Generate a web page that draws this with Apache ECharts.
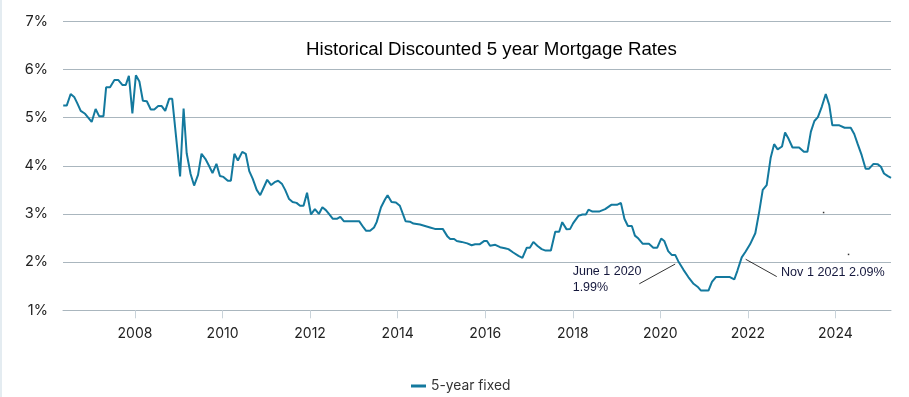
<!DOCTYPE html>
<html>
<head>
<meta charset="utf-8">
<title>Historical Discounted 5 year Mortgage Rates</title>
<script src="https://cdn.jsdelivr.net/npm/echarts@6/dist/echarts.min.js"></script>
<style>
	html,body{margin:0;padding:0;background:#fff;}
	#main{width:909px;height:397px;}
</style>
</head>
<body>
<div id="main"></div>
<script>
// 时间（小数年）与利率（%），按图上折线的拐点读取
var years = [
	2006.36,2006.44,2006.53,2006.61,2006.68,2006.76,2006.86,2007.01,2007.10,2007.18,
	2007.28,2007.34,2007.43,2007.53,2007.62,2007.71,2007.79,2007.86,2007.94,2008.02,
	2008.10,2008.18,2008.27,2008.36,2008.44,2008.53,2008.61,2008.69,2008.78,2008.85,
	2009.03,2009.11,2009.18,2009.27,2009.35,2009.44,2009.52,2009.61,2009.69,2009.77,
	2009.86,2009.94,2010.02,2010.12,2010.19,2010.27,2010.35,2010.45,2010.53,2010.61,
	2010.69,2010.78,2010.86,2010.94,2011.02,2011.11,2011.19,2011.27,2011.36,2011.43,
	2011.52,2011.60,2011.69,2011.77,2011.85,2011.93,2012.02,2012.11,2012.20,2012.28,
	2012.36,2012.44,2012.52,2012.61,2012.69,2012.77,2013.12,2013.22,2013.28,2013.37,
	2013.46,2013.52,2013.62,2013.71,2013.77,2013.86,2013.96,2014.05,2014.18,2014.28,
	2014.36,2014.51,2014.74,2014.85,2015.03,2015.14,2015.20,2015.29,2015.35,2015.46,
	2015.59,2015.69,2015.77,2015.87,2015.98,2016.04,2016.11,2016.23,2016.34,2016.45,
	2016.53,2016.64,2016.76,2016.85,2016.95,2017.02,2017.10,2017.19,2017.29,2017.38,
	2017.50,2017.60,2017.69,2017.76,2017.86,2017.94,2018.01,2018.13,2018.22,2018.30,
	2018.36,2018.45,2018.60,2018.74,2018.88,2019.01,2019.10,2019.18,2019.26,2019.35,
	2019.42,2019.50,2019.60,2019.74,2019.84,2019.93,2020.02,2020.09,2020.18,2020.26,
	2020.34,2020.41,2020.53,2020.64,2020.76,2020.85,2020.93,2021.10,2021.18,2021.27,
	2021.59,2021.69,2021.76,2021.86,2021.95,2022.05,2022.17,2022.26,2022.34,2022.43,
	2022.52,2022.60,2022.68,2022.78,2022.85,2022.93,2023.02,2023.17,2023.28,2023.36,
	2023.44,2023.52,2023.60,2023.69,2023.78,2023.86,2023.93,2024.09,2024.21,2024.35,
	2024.43,2024.51,2024.60,2024.69,2024.77,2024.87,2024.97,2025.04,2025.11,2025.19,
	2025.27
];
var rates = [
	5.25,5.25,5.49,5.43,5.30,5.14,5.08,4.91,5.18,5.03,
	5.03,5.63,5.63,5.78,5.78,5.68,5.68,5.87,5.09,5.88,
	5.75,5.35,5.34,5.17,5.17,5.24,5.24,5.14,5.39,5.39,
	3.78,5.19,4.26,3.83,3.59,3.81,4.25,4.14,4.00,3.85,
	4.04,3.79,3.77,3.69,3.69,4.25,4.11,4.29,4.25,3.89,
	3.73,3.50,3.39,3.55,3.71,3.60,3.66,3.69,3.62,3.50,
	3.31,3.25,3.23,3.17,3.17,3.44,2.99,3.10,3.00,3.14,
	3.08,2.99,2.90,2.90,2.94,2.85,2.85,2.72,2.65,2.65,
	2.72,2.83,3.14,3.30,3.39,3.25,3.24,3.17,2.85,2.84,
	2.80,2.78,2.72,2.69,2.69,2.53,2.48,2.48,2.44,2.42,
	2.39,2.35,2.37,2.37,2.44,2.44,2.34,2.36,2.31,2.29,
	2.27,2.20,2.13,2.09,2.30,2.30,2.42,2.34,2.27,2.24,
	2.24,2.63,2.63,2.83,2.68,2.69,2.81,2.96,2.99,2.99,
	3.09,3.05,3.05,3.10,3.19,3.19,3.23,2.90,2.75,2.75,
	2.55,2.49,2.38,2.38,2.30,2.30,2.49,2.44,2.23,2.15,
	2.15,2.02,1.84,1.69,1.55,1.49,1.41,1.41,1.59,1.69,
	1.69,1.64,1.82,2.10,2.22,2.37,2.60,3.05,3.50,3.60,
	4.16,4.45,4.34,4.40,4.69,4.56,4.38,4.38,4.29,4.29,
	4.71,4.93,5.01,5.23,5.49,5.26,4.84,4.84,4.79,4.79,
	4.66,4.45,4.22,3.94,3.94,4.04,4.03,3.98,3.84,3.79,
	3.75
];
// 横轴刻度（年份）
var yearTicks = [2008,2010,2012,2014,2016,2018,2020,2022,2024];
// 纵轴刻度（%）
var rateTicks = [1,2,3,4,5,6,7];
// 标注引线两端（小数年，%）
var leaderJune2020 = [[2019.52,1.55],[2020.34,1.96]];
var leaderNov2021 = [[2021.95,2.06],[2022.66,1.70]];
// 图上的两个小黑点
var strayDots = [[2023.73,3.03],[2024.30,2.16]];

var lineColor = '#13799e';
var gridColor = '#aab6be';

var points = [];
for(var i=0;i<years.length;i++){
	points.push([years[i], rates[i]]);
}

var myChart = echarts.init(document.getElementById('main'));
var option = {
	backgroundColor: '#fff',
	animation: false,
	title: {
		text: 'Historical Discounted 5 year Mortgage Rates',
		left: 301,
		top: 35,
		textStyle: {
			fontFamily: '"Liberation Sans", Arial, sans-serif',
			fontSize: 18.7,
			fontWeight: 'normal',
			color: '#000'
		}
	},
	legend: {
		data: ['5-year fixed'],
		left: 406,
		top: 374,
		icon: 'rect',
		itemWidth: 15,
		itemHeight: 3,
		itemGap: 6,
		textStyle: {
			fontFamily: 'Inter, sans-serif',
			fontSize: 13.8,
			color: '#333'
		}
	},
	grid: {
		left: 63,
		right: 18,
		top: 21.3,
		bottom: 86.7,
		containLabel: false
	},
	xAxis: {
		type: 'value',
		min: 2006.355,
		max: 2025.27,
		axisLine: {show: true, lineStyle: {color: gridColor, width: 1}},
		axisTick: {
			show: true,
			customValues: yearTicks,
			length: 8,
			lineStyle: {color: '#c9d3da'}
		},
		axisLabel: {
			customValues: yearTicks,
			margin: 16,
			fontFamily: 'Inter, sans-serif',
			fontSize: 14,
			color: '#222',
			formatter: function(v){ return String(Math.round(v)); }
		},
		splitLine: {show: false}
	},
	yAxis: {
		type: 'value',
		min: rateTicks[0],
		max: rateTicks[rateTicks.length-1],
		interval: 1,
		axisLine: {show: false},
		axisTick: {show: false},
		axisLabel: {
			margin: 15,
			fontFamily: 'Inter, sans-serif',
			fontSize: 14.5,
			color: '#222',
			formatter: '{value}%'
		},
		splitLine: {lineStyle: {color: gridColor, width: 1}}
	},
	series: [
		{
			name: '5-year fixed',
			type: 'line',
			data: points,
			showSymbol: false,
			symbol: 'none',
			lineStyle: {color: lineColor, width: 2},
			itemStyle: {color: lineColor},
			markLine: {
				silent: true,
				symbol: ['none','none'],
				label: {show: false},
				lineStyle: {color: '#000', width: 0.8, type: 'solid'},
				data: [
					[{coord: leaderJune2020[0]}, {coord: leaderJune2020[1]}],
					[{coord: leaderNov2021[0]}, {coord: leaderNov2021[1]}]
				]
			}
		},
		{
			name: 'dots',
			type: 'scatter',
			data: strayDots,
			symbol: 'rect',
			symbolSize: 1.5,
			itemStyle: {color: '#000'},
			silent: true
		}
	],
	graphic: [
		//左侧浅色边框
		{type: 'rect', shape: {x: 0, y: 0, width: 2, height: 397}, style: {fill: '#e4ecf1'}},
		{
			type: 'text', left: 572.7, top: 264,
			style: {
				text: 'June 1 2020\n1.99%',
				font: '12.5px "Liberation Sans", Arial, sans-serif',
				fill: '#14173c',
				lineHeight: 16
			}
		},
		{
			type: 'text', left: 781, top: 266,
			style: {
				text: 'Nov 1 2021 2.09%',
				font: '12.6px "Liberation Sans", Arial, sans-serif',
				fill: '#14173c'
			}
		}
	]
};
myChart.setOption(option);
</script>
</body>
</html>
